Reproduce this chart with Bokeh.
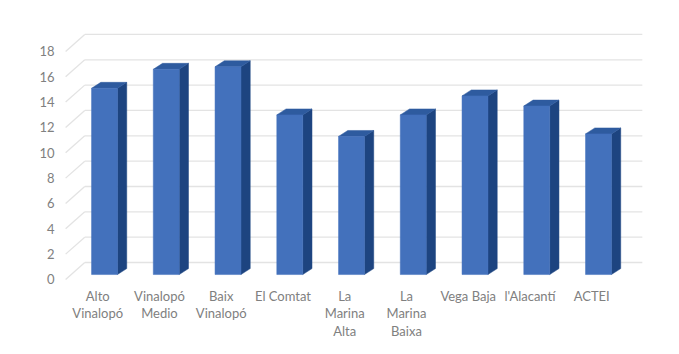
from bokeh.plotting import figure
from bokeh.models import Range1d, LinearAxis, FixedTicker, ColumnDataSource
from bokeh.core.properties import value
from bokeh.embed import file_html
from bokeh.resources import INLINE

# ---- data ----
categories = ["Alto\nVinalopó", "Vinalopó\nMedio", "Baix\nVinalopó", "El Comtat",
              "La\nMarina\nAlta", "La\nMarina\nBaixa", "Vega Baja", "l'Alacantí", "ACTEI"]
values = [14.7, 16.2, 16.4, 12.6, 10.9, 12.6, 14.1, 13.3, 11.1]
y_ticks = [0, 2, 4, 6, 8, 10, 12, 14, 16, 18]

# ---- style / layout constants ----
FRONT = "#4371BC"
SIDE = "#1D4480"
TOP = "#2E5B9F"
GRID = "#e3e3e3"
TXT = "#808080"
FONT = "Lato"

BAR_W = 0.42      # front face width (x units)
DX, DY = 0.15, 0.47   # bar depth offset
WALL_FRONT_DY = -0.39
WALL_BACK_DY = 0.95
XW_FRONT, XW_BACK, X_RIGHT = -0.63, -0.32, 8.71

Y0, Y1 = -5.68, 19.34
p = figure(width=671, height=346, output_backend="svg", toolbar_location=None,
           x_range=Range1d(-0.729, 8.988), y_range=Range1d(Y0, Y1),
           min_border_left=59, min_border_right=12, min_border_top=29, min_border_bottom=0)
p.xaxis.visible = False
p.yaxis.visible = False
p.xgrid.visible = False
p.ygrid.visible = False
p.outline_line_color = None
p.background_fill_color = "white"
p.border_fill_color = "white"

# value axis (on the front edge of the 3D side wall)
p.extra_y_ranges = {"axis": Range1d(Y0 - WALL_FRONT_DY, Y1 - WALL_FRONT_DY)}
ax = LinearAxis(y_range_name="axis", ticker=FixedTicker(ticks=y_ticks))
ax.axis_line_color = None
ax.major_tick_line_color = None
ax.minor_tick_line_color = None
ax.major_tick_out = 0
ax.major_label_standoff = 5
ax.major_label_text_color = TXT
ax.major_label_text_font = FONT
ax.major_label_text_font_size = "13px"
p.add_layout(ax, "left")

# 3D walls: side-wall diagonals and back-wall gridlines
p.segment(x0=[XW_FRONT] * len(y_ticks), y0=[t + WALL_FRONT_DY for t in y_ticks],
          x1=[XW_BACK] * len(y_ticks), y1=[t + WALL_BACK_DY for t in y_ticks],
          line_color=GRID, line_width=1.3)
p.segment(x0=[XW_BACK] * len(y_ticks), y0=[t + WALL_BACK_DY for t in y_ticks],
          x1=[X_RIGHT] * len(y_ticks), y1=[t + WALL_BACK_DY for t in y_ticks],
          line_color=GRID, line_width=1.3)

xs = list(range(len(values)))
h = BAR_W / 2

# side faces
side_xs = [[x + h, x + h + DX, x + h + DX, x + h] for x in xs]
side_ys = [[0, DY, v + DY, v] for v in values]
p.patches(side_xs, side_ys, fill_color=SIDE, line_color=SIDE, line_width=0.5)

# top faces
top_xs = [[x - h, x + h, x + h + DX, x - h + DX] for x in xs]
top_ys = [[v, v, v + DY, v + DY] for v in values]
p.patches(top_xs, top_ys, fill_color=TOP, line_color=TOP, line_width=0.5)

# front faces
p.vbar(x=xs, top=values, bottom=0, width=BAR_W, fill_color=FRONT, line_color=FRONT, line_width=0.5)

# category labels
lab = ColumnDataSource(dict(x=[x - 0.11 for x in xs], y=[-1.05] * len(xs), t=categories))
p.text(x="x", y="y", text="t", source=lab, text_align="center", text_baseline="top",
       text_color=TXT, text_font=value(FONT), text_font_size="13px", text_line_height=1.1)

open("out.html", "w").write(file_html(p, INLINE))
